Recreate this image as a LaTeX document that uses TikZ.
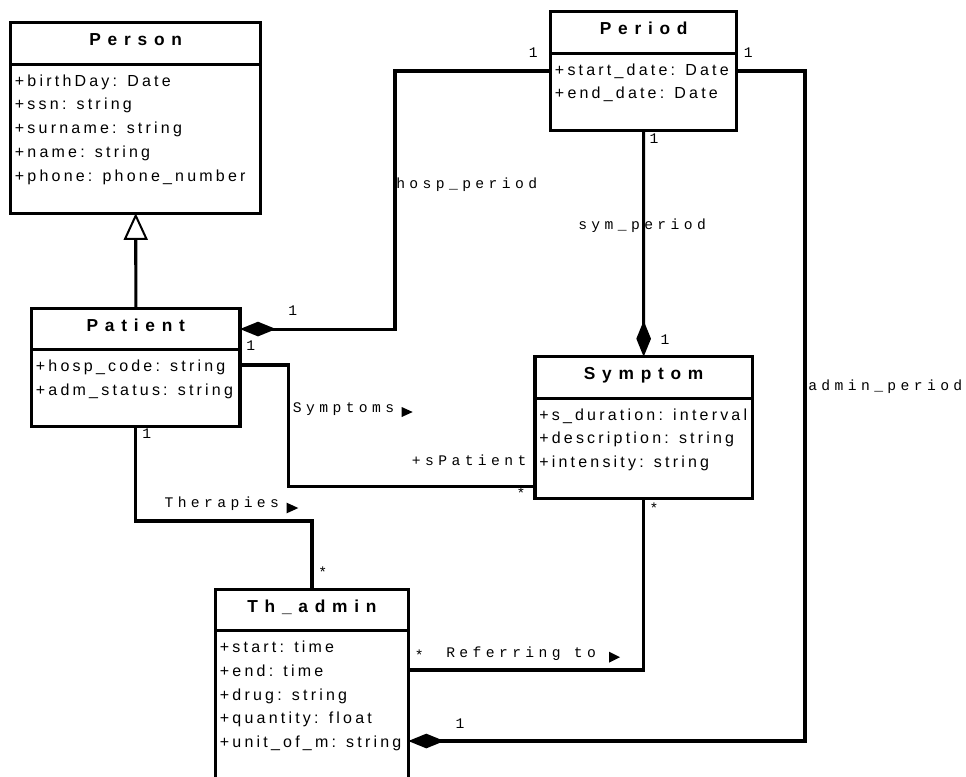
\documentclass[tikz,border=0pt]{standalone}
\usepackage{fontspec}
\newfontfamily\attrfont[LetterSpace=20]{Liberation Sans}
\newfontfamily\titlefont[LetterSpace=39]{Liberation Sans}
\newfontfamily\lblfont[LetterSpace=30]{Liberation Mono}
\usetikzlibrary{arrows.meta, % for diamonds and triangles
                calc, %for relative coord calculations
                positioning}
\newcommand{\pxl}{0.75pt}

\begin{document}
\begin{tikzpicture}[x=0.75pt, y=-0.75pt,
                    ClassHead/.style={draw, line width=2.3pt, inner sep=0pt, outer sep=0pt, anchor=north west,
                                      minimum height=41.5*\pxl, text height=8pt, text depth=4.6pt,
                                      font=\titlefont\bfseries\fontsize{13}{15}\selectfont},
                    ClassBody/.style={draw, line width=2.3pt, inner sep=0pt, outer sep=0pt, anchor=north west},
                    Attr/.style={anchor=base west, inner sep=0pt, font=\attrfont\fontsize{12}{14}\selectfont},
                    Lbl/.style={anchor=base west, inner sep=0pt, font=\lblfont\fontsize{11}{13}\selectfont},
                    Mult/.style={inner sep=0pt, font=\lblfont\fontsize{11}{13}\selectfont},
                    Assoc/.style={line width=2.3pt},
                    Comp/.tip={Diamond[length=27pt, width=11pt]}
                    ]
    \useasboundingbox (0,0) rectangle (966,776);

    % CLASSES %
    \node[ClassHead, minimum width=250*\pxl] (Person) at (10.7,22.7) {Person};
    \node[ClassBody, minimum width=250*\pxl, minimum height=149*\pxl] (PersonB) at (Person.south west) {};
    \foreach \a [count=\i] in {+birthDay: Date, +ssn: string, +surname: string, +name: string, +phone: phone\_number}{
    \node[Attr] (PersonA\i) at ($(PersonB.north west)+(4,22+23.7*\i-23.7)$) {\a};
    }

    \node[ClassHead, minimum width=186*\pxl] (Period) at (550.7,11.7) {Period};
    \node[ClassBody, minimum width=186*\pxl, minimum height=77.3*\pxl] (PeriodB) at (Period.south west) {};
    \foreach \a [count=\i] in {+start\_date: Date, +end\_date: Date}{
    \node[Attr] (PeriodA\i) at ($(PeriodB.north west)+(4,22+23.7*\i-23.7)$) {\a};
    }

    \node[ClassHead, minimum width=208.3*\pxl] (Patient) at (31.7,308.3) {Patient};
    \node[ClassBody, minimum width=208.3*\pxl, minimum height=76.7*\pxl] (PatientB) at (Patient.south west) {};
    \foreach \a [count=\i] in {+hosp\_code: string, +adm\_status: string}{
    \node[Attr] (PatientA\i) at ($(PatientB.north west)+(4,22+23.7*\i-23.7)$) {\a};
    }

    \node[ClassHead, minimum width=217.3*\pxl] (Symptom) at (535,356.7) {Symptom};
    \node[ClassBody, minimum width=217.3*\pxl, minimum height=100*\pxl] (SymptomB) at (Symptom.south west) {};
    \foreach \a [count=\i] in {+s\_duration: interval, +description: string, +intensity: string}{
    \node[Attr] (SymptomA\i) at ($(SymptomB.north west)+(4,22+23.7*\i-23.7)$) {\a};
    }

    \node[ClassHead, minimum width=192.6*\pxl] (Th) at (215.7,589.3) {Th\_admin};
    \node[ClassBody, minimum width=192.6*\pxl, minimum height=200*\pxl] (ThB) at (Th.south west) {};
    \foreach \a [count=\i] in {+start: time, +end: time, +drug: string, +quantity: float, +unit\_of\_m: string}{
    \node[Attr] (ThA\i) at ($(ThB.north west)+(4,22+23.7*\i-23.7)$) {\a};
    }

    % ASSOCIATIONS %
    \draw[Assoc, -{Triangle[open, fill=white, length=20pt, width=18pt, line width=1.5pt]}] (Patient.north) -- (PersonB.south);
    \draw[Assoc, Comp-] (Patient.east) -| (395,71) -- (PeriodB.west |- 0,71);
    \draw[Assoc, -Comp] (PeriodB.south) -- (Symptom.north);
    \draw[Assoc, Comp-] (ThB.east |- 0,741) -| (805,71) -- (PeriodB.east |- 0,71);
    \draw[Assoc] (PatientB.east |- 0,365) -| (288.5,486.5) -- (SymptomB.west |- 0,486.5);
    \draw[Assoc] (PatientB.south) |- (Th.north |- 0,521) -- (Th.north);
    \draw[Assoc] (SymptomB.south) |- (ThB.east |- 0,670);

    % LABELS %
    \node[Lbl] (HospLbl) at (396,188) {hosp\_period};
    \node[Lbl] (SymPerLbl) at (578,229) {sym\_period};
    \node[Lbl] (AdminLbl) at (808,390) {admin\_period};
    \node[Lbl] (SymsLbl) at (292.7,412) {Symptoms};
    \node[Lbl] (SPatLbl) at (411.7,465) {+sPatient};
    \node[Lbl] (TherLbl) at (164.3,507) {Therapies};
    \node[Lbl] (RefLbl) at (446,657) {Referring to};

    \fill (401.7,407) -- (412.7,412) -- (401.7,417) -- cycle;
    \fill (286.7,502.7) -- (298.3,508) -- (286.7,513.3) -- cycle;
    \fill (609,651.7) -- (620,657.2) -- (609,662.7) -- cycle;

    % MULTIPLICITIES %
    \foreach \x/\y/\t [count=\i] in {533.3/52.7/1, 748.3/52.7/1, 654/138.3/1, 292.7/310.7/1,
                                     250.7/346/1, 665/339.3/1, 146.7/434/1, 322.7/572/*,
                                     521/493/*, 654/508/*, 419.3/654.7/*, 460/723.3/1}{
    \node[Mult] (M\i) at (\x,\y) {\t};
    }

\end{tikzpicture}
\end{document}
